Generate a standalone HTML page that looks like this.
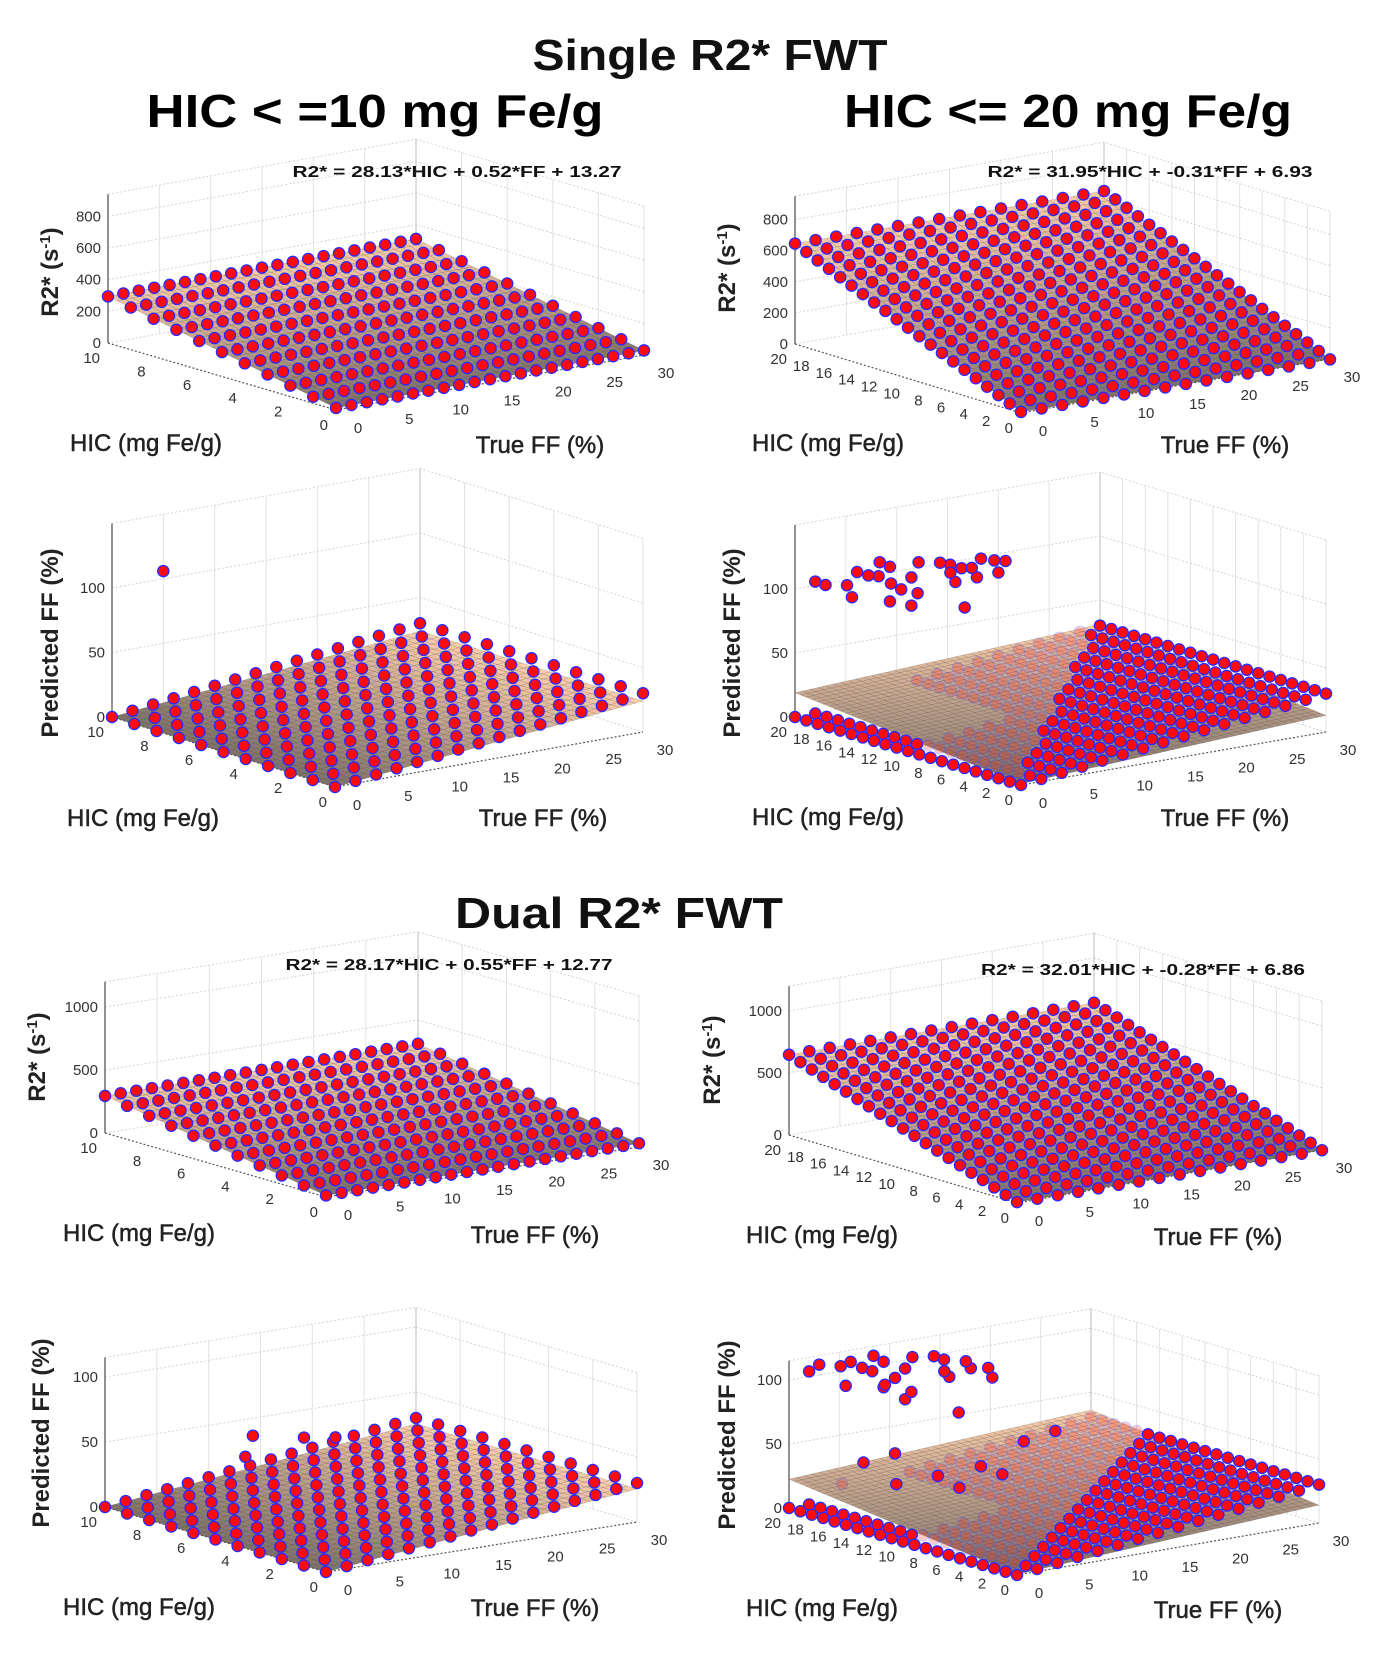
<!DOCTYPE html>
<html><head><meta charset="utf-8"><title>Single vs Dual R2* FWT</title>
<style>
html,body{margin:0;padding:0;background:#fff;}
svg{display:block;}
text{font-family:"Liberation Sans",Arial,sans-serif;}
</style></head>
<body>
<svg id="fig" xmlns="http://www.w3.org/2000/svg" width="1377" height="1667" viewBox="0 0 1377 1667">
<rect x="0" y="0" width="1377" height="1667" fill="#fff"/>
<text x="710" y="70" font-size="44" font-weight="bold" text-anchor="middle" textLength="355" lengthAdjust="spacingAndGlyphs" fill="#111">Single R2* FWT</text>
<text x="375" y="127" font-size="46" font-weight="bold" text-anchor="middle" textLength="457" lengthAdjust="spacingAndGlyphs" fill="#000">HIC &lt; =10 mg Fe/g</text>
<text x="1068" y="127" font-size="46" font-weight="bold" text-anchor="middle" textLength="448" lengthAdjust="spacingAndGlyphs" fill="#000">HIC &lt;= 20 mg Fe/g</text>
<text x="619" y="928" font-size="44" font-weight="bold" text-anchor="middle" textLength="328" lengthAdjust="spacingAndGlyphs" fill="#111">Dual R2* FWT</text>
<g id="panels"></g>
</svg>
<script>
// ---------- data ----------
const hic10 = [0,1,2,3,4,5,6,7,8,9,10];
const hic20 = [0,1,2,3,4,5,6,7,8,9,10,11,12,13,14,15,16,17,18,19,20];
const ffGridA = [0,1.5,3,4.5,6,7.5,9,10.5,12,13.5,15,16.5,18,19.5,21,22.5,24,25.5,27,28.5,30];
const ffGridB = [0,2,4,6,8,10,12,14,16,18,20,22,24,26,28,30];
const hTicks10 = [0,2,4,6,8,10];
const hTicks20 = [0,2,4,6,8,10,12,14,16,18,20];
const fTicks = [0,5,10,15,20,25,30];
const zTicksR2a = [0,200,400,600,800];
const zTicksR2b = [0,500,1000];
const zTicksFF = [0,50,100];
// fit coefficients [HIC, FF, intercept]
const fitSingle10 = [28.13,0.52,13.27];
const fitSingle20 = [31.95,-0.31,6.93];
const fitDual10 = [28.17,0.55,12.77];
const fitDual20 = [32.01,-0.28,6.86];
// predicted-FF fit planes [HIC, FF, intercept]
const ffPlaneSingle10 = [0,0.8,0];
const ffPlaneSingle20 = [0.9,0.4,1];
const ffPlaneDual10 = [0,0.85,0];
const ffPlaneDual20 = [1.1,0.45,0.5];
// HIC above which FF estimation fails (HIC<=20 panels)
const failHic = 10;
// outliers [HIC, trueFF, predictedFF]
const outSingle10 = [[10,5,106]];
const outSingle20 = [[20,2,103],[20,3,99],[19,4,100],[19,4.5,90],[19,5,109],[18,5,109],[18,6,107],[17,5,122],[17,6,117],[17,6,90],[16,5,108],[16,6,102],[16,7,110],[16,7,88],[15,6.5,101],[15,6.6,125],[14,7.6,126],[14,8.6,123],[13,7.5,121],[13,8,113],[13,8.6,123],[12,7.8,96],[12,8.5,126],[12,9,118],[12,9.4,132],[11,9.6,133],[11,10,123],[11,10.7,131]];
const outDual10 = [[8,10,52],[7,12.8,52],[6,13.7,56],[9,11.4,29]];
const outDual20 = [[20,2,104],[20,3,108],[19,4,108],[19,4.5,92],[19,5,110],[18,5,108],[18,6,104],[17,5,120],[17,6,114],[17,6,94],[16,5,100],[16,6,104],[16,7,110],[16,7,86],[15,6.5,95],[15,6.6,122],[14,7.6,124],[14,8.6,120],[13,7.5,115],[13,8,110],[12,7.8,85],[12,8.5,124],[12,9,118],[11,9.6,120],[11,10,112],
  [12,10,40],[14,8,30],[16,6,45],[10,12,62],[9,14,70],[13,9,22],[15,5,25],[11,11,35],[18,3,20],[17,4,38]];

// ---------- drawing ----------
const NS = 'http://www.w3.org/2000/svg';
const root = document.getElementById('panels');
function el(tag, attrs, parent) {
  const e = document.createElementNS(NS, tag);
  for (const k in attrs) e.setAttribute(k, attrs[k]);
  (parent || root).appendChild(e);
  return e;
}
function lerp(a,b,t){return a+(b-a)*t;}
function surfColor(t){
  t=Math.max(0,Math.min(1,t));
  return 'rgb('+Math.round(lerp(112,252,t))+','+Math.round(lerp(102,206,t))+','+Math.round(lerp(98,170,t))+')';
}

function drawPanel(cfg, idx) {
  const g = el('g', {});
  
  
  const {F,L,R,zPer,hMax,fMax,zTop} = cfg;
  function P(h,f,z){
    return [F[0]+h/hMax*(L[0]-F[0])+f/fMax*(R[0]-F[0]), F[1]+h/hMax*(L[1]-F[1])+f/fMax*(R[1]-F[1])-z*zPer];
  }
  const grid = el('g', {stroke:'#d4d4d4','stroke-width':'1','stroke-dasharray':'2,2',fill:'none'}, g);
  
  
  cfg.fTicks.forEach(f=>{const a=P(hMax,f,0),b=P(hMax,f,zTop);el('line',{x1:a[0],y1:a[1],x2:b[0],y2:b[1],'stroke-dasharray':'none',stroke:'#e2e2e2'},grid);});
  cfg.zTicks.forEach(z=>{const a=P(hMax,0,z),b=P(hMax,fMax,z);el('line',{x1:a[0],y1:a[1],x2:b[0],y2:b[1]},grid);});
  cfg.hTicks.forEach(h=>{const a=P(h,fMax,0),b=P(h,fMax,zTop);el('line',{x1:a[0],y1:a[1],x2:b[0],y2:b[1],'stroke-dasharray':'none',stroke:'#e2e2e2'},grid);});
  cfg.zTicks.forEach(z=>{const a=P(0,fMax,z),b=P(hMax,fMax,z);el('line',{x1:a[0],y1:a[1],x2:b[0],y2:b[1]},grid);});
  [[P(hMax,0,zTop),P(hMax,fMax,zTop)],[P(0,fMax,zTop),P(hMax,fMax,zTop)]].forEach(s=>el('line',{x1:s[0][0],y1:s[0][1],x2:s[1][0],y2:s[1][1]},grid));
  const bv0=P(hMax,fMax,0), bv1=P(hMax,fMax,zTop);
  const bv = el('line',{x1:bv0[0],y1:bv0[1],x2:bv1[0],y2:bv1[1],stroke:'#c8c8c8','stroke-width':'1.2'},g);
  
  
  const za=P(hMax,0,0), zb=P(hMax,0,zTop);
  const zl = el('line',{x1:za[0],y1:za[1],x2:zb[0],y2:zb[1],stroke:'#777','stroke-width':'1.6'},g);
  
  

  const surf = el('g', {stroke:'rgba(40,40,40,0.3)','stroke-width':'0.45'}, g);
  
  
  const c = cfg.plane;
  const sz = (h,f)=>Math.max(0,c[0]*h+c[1]*f+c[2]);
  let zmin=Infinity,zmax=-Infinity;
  [[0,0],[hMax,0],[0,fMax],[hMax,fMax]].forEach(q=>{const v=sz(q[0],q[1]);zmin=Math.min(zmin,v);zmax=Math.max(zmax,v);});
  const nh=cfg.nh, nf=40, quads=[];
  for(let i=0;i<nh;i++)for(let j=0;j<nf;j++){
    const h0=i*hMax/nh,h1=(i+1)*hMax/nh,f0=j*fMax/nf,f1=(j+1)*fMax/nf;
    quads.push([h0,h1,f0,f1,(h0+h1)/2/hMax+(f0+f1)/2/fMax]);
  }
  quads.sort((a,b)=>b[4]-a[4]);
  quads.forEach(q=>{
    const [h0,h1,f0,f1]=q;
    const p1=P(h0,f0,sz(h0,f0)),p2=P(h1,f0,sz(h1,f0)),p3=P(h1,f1,sz(h1,f1)),p4=P(h0,f1,sz(h0,f1));
    const t=(sz((h0+h1)/2,(f0+f1)/2)-zmin)/(zmax-zmin||1);
    el('polygon',{points:[p1,p2,p3,p4].map(p=>p[0].toFixed(1)+','+p[1].toFixed(1)).join(' '),fill:surfColor(0.1+0.9*t)},surf);
  });
  const fe = el('g',{stroke:'#555','stroke-width':'1.2','stroke-dasharray':'2,2'},g);
  
  
  const pL=P(hMax,0,0),pF=P(0,0,0),pR=P(0,fMax,0);
  el('line',{x1:pL[0],y1:pL[1],x2:pF[0],y2:pF[1]},fe);
  el('line',{x1:pF[0],y1:pF[1],x2:pR[0],y2:pR[1]},fe);

  const pts = cfg.points.slice().sort((a,b)=>(b[0]/hMax+b[1]/fMax)-(a[0]/hMax+a[1]/fMax));
  const dg = el('g',{fill:'#ff0a0a',stroke:'#2a2aff','stroke-width':'1.3'},g);
  
  
  pts.forEach(p=>{
    const xy=P(p[0],p[1],p[2]);
    const hidden = p[2] > 0 && p[2] < sz(p[0],p[1]) - 1.5;
    const d = el('circle',{cx:xy[0].toFixed(1),cy:xy[1].toFixed(1),r:'5.6',opacity: hidden? '0.22':'1'},dg);
    
    
  });

  const tg = el('g',{'font-size':'15',fill:'#333'},g);
  
  
  cfg.zTicks.forEach(z=>{const p=P(hMax,0,z);const t=el('text',{x:p[0]-7,y:p[1]+5,'text-anchor':'end'},tg);t.textContent=z;
    });
  cfg.hTicks.forEach(h=>{const p=P(h,0,0);const t=el('text',{x:p[0]-8,y:p[1]+20,'text-anchor':'end'},tg);t.textContent=h;
    });
  cfg.fTicks.forEach(f=>{const p=P(0,f,0);const t=el('text',{x:p[0]+22,y:p[1]+23,'text-anchor':'middle'},tg);t.textContent=f;
    });

  const hl = el('text',{x:cfg.hLab[0],y:cfg.hLab[1]+8,'font-size':'24','text-anchor':'middle',fill:'#222',stroke:'#222','stroke-width':'0.5'},g);
  hl.textContent='HIC (mg Fe/g)';
  
  
  const fl = el('text',{x:cfg.fLab[0],y:cfg.fLab[1]+8,'font-size':'24','text-anchor':'middle',fill:'#222',stroke:'#222','stroke-width':'0.5'},g);
  fl.textContent='True FF (%)';
  
  
  const zt = el('text',{transform:'translate('+(cfg.zLab[0]+8)+','+cfg.zLab[1]+') rotate(-90)','font-size':'24','font-weight':'bold','text-anchor':'middle',fill:'#222'},g);
  
  
  if(cfg.kind==='r2'){
    zt.appendChild(document.createTextNode('R2* (s'));
    const sup=el('tspan',{'baseline-shift':'super','font-size':'15'},zt);sup.textContent='-1';
    zt.appendChild(document.createTextNode(')'));
  } else {
    zt.textContent='Predicted FF (%)';
  }
  if(cfg.eq){
    const e=el('text',{x:cfg.eq[0],y:cfg.eq[1],'font-size':'16','font-weight':'bold','text-anchor':'middle',textLength:cfg.eq[2],lengthAdjust:'spacingAndGlyphs',fill:'#111'},g);
    const co=cfg.fit;
    e.textContent='R2* = '+co[0].toFixed(2)+'*HIC + '+co[1].toFixed(2)+'*FF + '+co[2].toFixed(2);
    
    
  }
}

function r2Points(hics, ffs, fit){
  const out=[];
  hics.forEach(h=>ffs.forEach(f=>out.push([h,f,fit[0]*h+fit[1]*f+fit[2]])));
  return out;
}
function ffPoints(hics, ffs, outliers, withFail){
  const out=[];
  hics.forEach(h=>ffs.forEach(f=>{
    if(withFail && h>failHic){
      if(f<=2) out.push([h,f,0]);
      else if(f>=12) out.push([h,f,f]);
    } else out.push([h,f,f]);
  }));
  outliers.forEach(o=>out.push(o));
  return out;
}

const panelCfgs = [
 {name:'single-r2-hic10',kind:'r2',F:[336,410],L:[108,343],R:[644,355],zPer:0.1583,hMax:10,fMax:30,zTop:940,nh:24,
  zTicks:zTicksR2a,hTicks:hTicks10,fTicks:fTicks,plane:fitSingle10,fit:fitSingle10,points:r2Points(hic10,ffGridA,fitSingle10),
  hLab:[146,443],fLab:[540,445],zLab:[50,272],eq:[457,177,329]},
 {name:'single-r2-hic20',kind:'r2',F:[1021,413],L:[795,344],R:[1330,359],zPer:0.1555,hMax:20,fMax:30,zTop:950,nh:40,
  zTicks:zTicksR2a,hTicks:hTicks20,fTicks:fTicks,plane:fitSingle20,fit:fitSingle20,points:r2Points(hic20,ffGridB,fitSingle20),
  hLab:[828,443],fLab:[1225,445],zLab:[727,268],eq:[1150,177,325]},
 {name:'single-ff-hic10',kind:'ff',F:[335,787],L:[112,717],R:[643,732],zPer:1.29,hMax:10,fMax:30,zTop:150,nh:24,
  zTicks:zTicksFF,hTicks:hTicks10,fTicks:fTicks,plane:ffPlaneSingle10,points:ffPoints(hic10,ffGridB,outSingle10,false),
  hLab:[143,818],fLab:[543,818],zLab:[50,643]},
 {name:'single-ff-hic20',kind:'ff',F:[1021,785],L:[795,717],R:[1326,732],zPer:1.28,hMax:20,fMax:30,zTop:150,nh:40,
  zTicks:zTicksFF,hTicks:hTicks20,fTicks:fTicks,plane:ffPlaneSingle20,points:ffPoints(hic20,ffGridB,outSingle20,true),
  hLab:[828,817],fLab:[1225,818],zLab:[732,643]},
 {name:'dual-r2-hic10',kind:'r2',F:[326,1197],L:[105,1133],R:[639,1147],zPer:0.126,hMax:10,fMax:30,zTop:1200,nh:24,
  zTicks:zTicksR2b,hTicks:hTicks10,fTicks:fTicks,plane:fitDual10,fit:fitDual10,points:r2Points(hic10,ffGridA,fitDual10),
  hLab:[139,1233],fLab:[535,1235],zLab:[37,1057],eq:[449,970,327]},
 {name:'dual-r2-hic20',kind:'r2',F:[1017,1203],L:[789,1135],R:[1322,1150],zPer:0.124,hMax:20,fMax:30,zTop:1200,nh:40,
  zTicks:zTicksR2b,hTicks:hTicks20,fTicks:fTicks,plane:fitDual20,fit:fitDual20,points:r2Points(hic20,ffGridB,fitDual20),
  hLab:[822,1235],fLab:[1218,1237],zLab:[712,1060],eq:[1143,975,324]},
 {name:'dual-ff-hic10',kind:'ff',F:[326,1572],L:[105,1507],R:[637,1522],zPer:1.3,hMax:10,fMax:30,zTop:115,nh:24,
  zTicks:zTicksFF,hTicks:hTicks10,fTicks:fTicks,plane:ffPlaneDual10,points:ffPoints(hic10,ffGridB,outDual10,false),
  hLab:[139,1607],fLab:[535,1608],zLab:[41,1433]},
 {name:'dual-ff-hic20',kind:'ff',F:[1017,1575],L:[789,1508],R:[1319,1523],zPer:1.28,hMax:20,fMax:30,zTop:115,nh:40,
  zTicks:zTicksFF,hTicks:hTicks20,fTicks:fTicks,plane:ffPlaneDual20,points:ffPoints(hic20,ffGridB,outDual20,true),
  hLab:[822,1608],fLab:[1218,1610],zLab:[727,1435]}
];
panelCfgs.forEach(drawPanel);
</script>
</body></html>
